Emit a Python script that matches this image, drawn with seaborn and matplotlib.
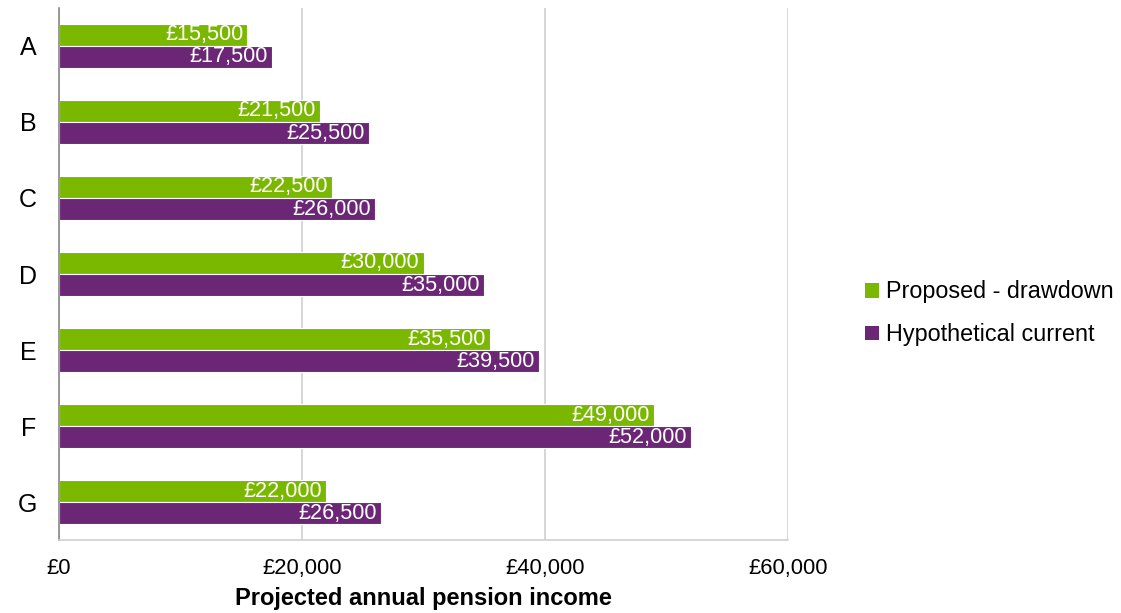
import matplotlib
matplotlib.use("Agg")
import matplotlib.pyplot as plt
import seaborn as sns
import pandas as pd
from matplotlib.patches import Patch

categories = ["A", "B", "C", "D", "E", "F", "G"]
series_names = ["Proposed - drawdown", "Hypothetical current"]
proposed = [15500, 21500, 22500, 30000, 35500, 49000, 22000]
hypothetical = [17500, 25500, 26000, 35000, 39500, 52000, 26500]
x_ticks = [0, 20000, 40000, 60000]
x_tick_labels = ["£0", "£20,000", "£40,000", "£60,000"]
colors = ["#7AB800", "#6B2776"]

df = pd.DataFrame({
    "cat": categories * 2,
    "value": proposed + hypothetical,
    "series": [series_names[0]] * len(categories) + [series_names[1]] * len(categories),
})

sns.set_theme(style="white")
plt.rcParams["font.family"] = ["Liberation Sans", "DejaVu Sans"]
plt.rcParams["text.color"] = "black"
plt.rcParams["xtick.color"] = "black"
plt.rcParams["ytick.color"] = "black"
plt.rcParams["axes.labelcolor"] = "black"

fig = plt.figure(figsize=(11.21, 6.13), dpi=100)
ax = fig.add_axes([0.0526, 0.119, 0.703 - 0.0526, 0.987 - 0.119])

sns.barplot(data=df, y="cat", x="value", hue="series", orient="h",
            palette=colors, saturation=1, width=0.58, edgecolor="white", linewidth=0.8,
            legend=False, ax=ax, order=categories, hue_order=series_names)

for cont, vals in zip(ax.containers, [proposed, hypothetical]):
    texts = ax.bar_label(cont, labels=[f"£{v:,}" for v in vals], padding=-3,
                         color="white", fontsize=15.6)
    for t in texts:
        t.set_ha("right")

ax.set_xlim(0, 60000)
ax.set_ylim(6.5, -0.5)
ax.set_xticks(x_ticks)
ax.set_xticklabels(x_tick_labels, fontsize=15.8)
ax.tick_params(axis="y", labelsize=18, length=0, pad=16, labelcolor="black")
ax.tick_params(axis="x", length=0, pad=13, labelcolor="black")
ax.grid(axis="x", color="#D0D0D0", linewidth=1.2)
ax.set_axisbelow(True)
for s in ["top", "right"]:
    ax.spines[s].set_visible(False)
ax.spines["left"].set_color("#888888")
ax.spines["left"].set_linewidth(1.2)
ax.spines["bottom"].set_color("#D0D0D0")
ax.spines["bottom"].set_linewidth(1.2)
ax.set_ylabel("")
ax.set_xlabel("Projected annual pension income", fontsize=17, fontweight="bold",
              labelpad=6, color="black")

handles = [Patch(facecolor=c, edgecolor="none") for c in colors]
leg = fig.legend(handles, series_names, loc="center left", bbox_to_anchor=(0.753, 0.489),
                 frameon=False, fontsize=16.8, handlelength=0.6, handleheight=0.6,
                 handletextpad=0.3, labelspacing=0.85)
for t in leg.get_texts():
    t.set_color("black")

fig.savefig("out.png", dpi=100)
